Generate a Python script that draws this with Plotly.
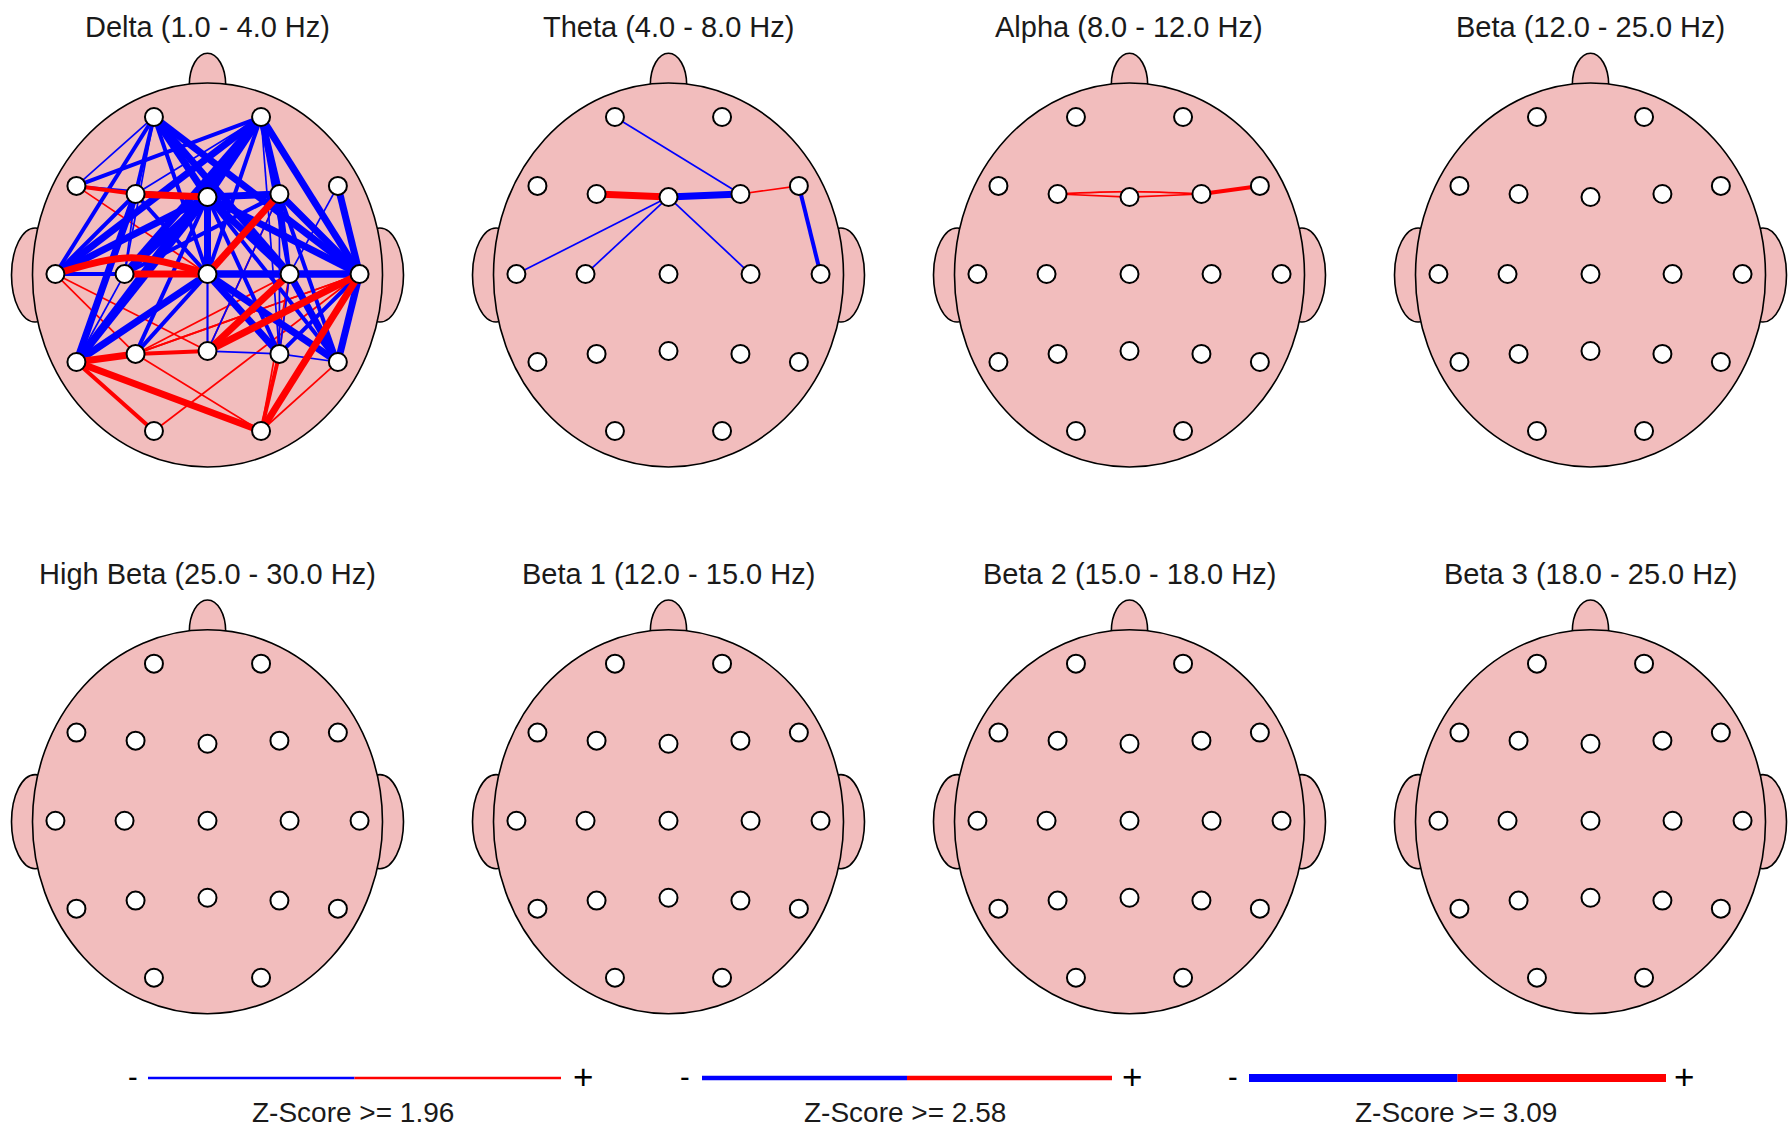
import plotly.graph_objects as go

PAGE_W, PAGE_H = 1789, 1133

ELECTRODES = ["Fp1","Fp2","F7","F3","Fz","F4","F8","T3","C3","Cz","C4","T4","T5","P3","Pz","P4","T6","O1","O2"]
ELEC_X = [-.306,.306,-.749,-.411,0,.411,.745,-.869,-.474,0,.469,.869,-.749,-.411,0,.411,.745,-.306,.306]
ELEC_Y = [.823,.823,.464,.422,.406,.422,.464,.005,.005,.005,.005,.005,-.453,-.411,-.396,-.411,-.453,-.8125,-.8125]

TITLES = ["Delta (1.0 - 4.0 Hz)","Theta (4.0 - 8.0 Hz)","Alpha (8.0 - 12.0 Hz)","Beta (12.0 - 25.0 Hz)",
          "High Beta (25.0 - 30.0 Hz)","Beta 1 (12.0 - 15.0 Hz)","Beta 2 (15.0 - 18.0 Hz)","Beta 3 (18.0 - 25.0 Hz)"]

# level 1: z>=1.96, 2: z>=2.58, 3: z>=3.09
DELTA_RED_THIN = [("F7","Cz",1),("T3","Pz",1),("T3","P3",1),("P3","C4",1),("P3","T4",1),("P3","T4",1),("Pz","T4",1),
                  ("O1","T4",1),("P3","O2",1),("O2","T6",1),("O2","C4",1),("C4","P4",1),("Pz","F4",1)]
DELTA_BLUE = [("Fp1","F7",1),("Fp1","F3",2),("Fp1","T3",2),("Fp1","Fz",3),("Fp1","Cz",2),("Fp1","C4",3),("Fp1","T4",3),
              ("Fp1","C3",1),("Fp2","F7",2),("Fp2","F3",1),("Fp2","Fz",3),("Fp2","F4",3),("Fp2","T4",3),("Fp2","C3",3),
              ("Fp2","T3",3),("Fp2","T5",3),("Fp2","Cz",2),("Fp2","C4",2),("Fp2","P4",1),
              ("F7","Fz",1),("F3","T3",2),("F3","T5",3),("F3","Cz",2),("F3","Fz",2),("F3","C3",1),
              ("Fz","C3",3),("Fz","T3",3),("Fz","T5",3),("Fz","P3",2),("Fz","Cz",3),("Fz","C4",3),("Fz","T4",3),("Fz","P4",2),("Fz","T6",2),
              ("Fz","F4",3),("Fz","Pz",1),
              ("F4","C3",2),("F4","C4",2),("F4","T4",3),("F4","P4",1),("F4","T6",2),("F4","Pz",1),
              ("F8","C4",1),("F8","T4",3),
              ("T3","Cz",2),("T5","C3",1),("T5","Cz",3),("P3","Cz",2),("Cz","C4",3),("Cz","T4",3),("Cz","P4",3),("Cz","T6",3),("Cz","Pz",1),
              ("C4","T4",3),("C4","T6",3),("C4","P4",1),("C4","Pz",1),("T4","T6",3),("T4","P4",2),("Pz","P4",1),("P4","T6",1)]
DELTA_RED = [("F7","F3",2),("F3","Fz",3),("T3","Cz",3,.085),("C3","Cz",3),("T5","P3",3),("P3","Pz",2),("T5","O2",3),("T5","O1",2),
             ("Cz","F4",3),("Pz","C4",3),("Pz","T4",3),("O2","T4",3),("O2","P4",2)]

THETA_EDGES = [("Fp1","F4",1,"blue"),("Fz","T3",1,"blue"),("Fz","C3",1,"blue"),("Fz","C4",1,"blue"),
               ("F3","Fz",3,"red"),("Fz","F4",3,"blue"),("F4","F8",1,"red"),("F8","T4",2,"blue")]
ALPHA_EDGES = [("F3","Fz",1,"red"),("F3","F4",1,"red",.012),("Fz","F4",1,"red"),("F4","F8",2,"red")]

EDGES = [[(*e,"red") for e in DELTA_RED_THIN]
         + [(*e,"blue") for e in DELTA_BLUE]
         + [(*e[:3],"red",*e[3:]) for e in DELTA_RED],
         THETA_EDGES, ALPHA_EDGES, [], [], [], [], []]

Z_LEVELS = ["1.96","2.58","3.09"]

LINE_W = {1:1.7, 2:4, 3:7}
PANEL_X = [207.5, 668.5, 1129.5, 1590.5]
PANEL_Y = [275, 821.7]
HALF_W, HALF_H = 198.5, 240
A, B = 175.0, 192.0
PINK = "#F2BDBD"
COL = {"red":"#FF0000","blue":"#0000FF"}
FONT = "Liberation Sans"

fig = go.Figure()
layout = dict(width=PAGE_W, height=PAGE_H, margin=dict(l=0,r=0,t=0,b=0), paper_bgcolor="white",
              plot_bgcolor="rgba(0,0,0,0)", showlegend=False)
shapes, annots = [], []
pos = {n:(x,y) for n,x,y in zip(ELECTRODES,ELEC_X,ELEC_Y)}

def add_axes(i, x0, x1, y0, y1, xr, yr):
    s = "" if i==1 else str(i)
    layout["xaxis"+s] = dict(domain=[x0/PAGE_W,x1/PAGE_W], range=xr, visible=False, fixedrange=True, anchor="y"+s)
    layout["yaxis"+s] = dict(domain=[1-y1/PAGE_H,1-y0/PAGE_H], range=yr, visible=False, fixedrange=True, anchor="x"+s)
    return ("x"+s, "y"+s)

idx = 0
for r in range(2):
    for c in range(4):
        idx += 1
        cx, cy = PANEL_X[c], PANEL_Y[r]
        xa, ya = add_axes(idx, cx-HALF_W, cx+HALF_W, cy-HALF_H, cy+HALF_H,
                          [-HALF_W/A, HALF_W/A], [-HALF_H/B, HALF_H/B])
        def ell(xc, yc, rx, ry):
            shapes.append(dict(type="circle", xref=xa, yref=ya, x0=xc-rx, x1=xc+rx, y0=yc-ry, y1=yc+ry,
                               fillcolor=PINK, line=dict(color="black", width=1.6), layer="below"))
        ell(-.985,0,.135,.245); ell(.985,0,.135,.245); ell(0,.99,.104,.165); ell(0,0,1,1)
        for e in EDGES[idx-1]:
            a, b, lvl, col = e[:4]
            xs, ys = [pos[a][0],pos[b][0]], [pos[a][1],pos[b][1]]
            shape = "linear"
            if len(e) > 4:
                xs.insert(1,(xs[0]+xs[1])/2); ys.insert(1,(ys[0]+ys[1])/2+e[4]); shape="spline"
            fig.add_trace(go.Scatter(x=xs,y=ys,mode="lines",xaxis=xa,yaxis=ya,hoverinfo="skip",
                                     line=dict(color=COL[col],width=LINE_W[lvl],shape=shape)))
        fig.add_trace(go.Scatter(x=ELEC_X,y=ELEC_Y,mode="markers",xaxis=xa,yaxis=ya,text=ELECTRODES,hoverinfo="text",
                                 marker=dict(size=18,color="white",line=dict(color="black",width=2))))
        annots.append(dict(text=TITLES[idx-1],xref="paper",yref="paper",x=(cx-0.5)/PAGE_W,y=1-(cy-248)/PAGE_H,showarrow=False,
                           xanchor="center",yanchor="middle",font=dict(family=FONT,size=29,color="#1a1a1a")))

# Legend bars
LEG_X = [(148,561),(702,1112),(1249,1666)]
LEG_W = [2.5,4.5,8]
LEG_Y = 1078
MINUS_X = [133,685,1233]
PLUS_X = [583,1132,1684]
for k,(x0,x1) in enumerate(LEG_X):
    idx += 1
    xa, ya = add_axes(idx, x0, x1, LEG_Y-8, LEG_Y+8, [-1,1], [-1,1])
    fig.add_trace(go.Scatter(x=[-1,0],y=[0,0],mode="lines",xaxis=xa,yaxis=ya,hoverinfo="skip",line=dict(color=COL["blue"],width=LEG_W[k])))
    fig.add_trace(go.Scatter(x=[0,1],y=[0,0],mode="lines",xaxis=xa,yaxis=ya,hoverinfo="skip",line=dict(color=COL["red"],width=LEG_W[k])))
    annots.append(dict(text="-",xref="paper",yref="paper",x=MINUS_X[k]/PAGE_W,y=1-(LEG_Y-1)/PAGE_H,showarrow=False,
                       xanchor="center",yanchor="middle",font=dict(family=FONT,size=29,color="black")))
    annots.append(dict(text="+",xref="paper",yref="paper",x=PLUS_X[k]/PAGE_W,y=1-(LEG_Y-2)/PAGE_H,showarrow=False,
                       xanchor="center",yanchor="middle",font=dict(family=FONT,size=35,color="black")))
    annots.append(dict(text="Z-Score >= "+Z_LEVELS[k],xref="paper",yref="paper",x=((x0+x1)/2-2)/PAGE_W,y=1-1112/PAGE_H,
                       showarrow=False,xanchor="center",yanchor="middle",font=dict(family=FONT,size=28,color="#1a1a1a")))

fig.update_layout(**layout, shapes=shapes, annotations=annots)
fig.write_html("out.html", post_script="document.body.style.margin='0';", config=dict(displayModeBar=False))
